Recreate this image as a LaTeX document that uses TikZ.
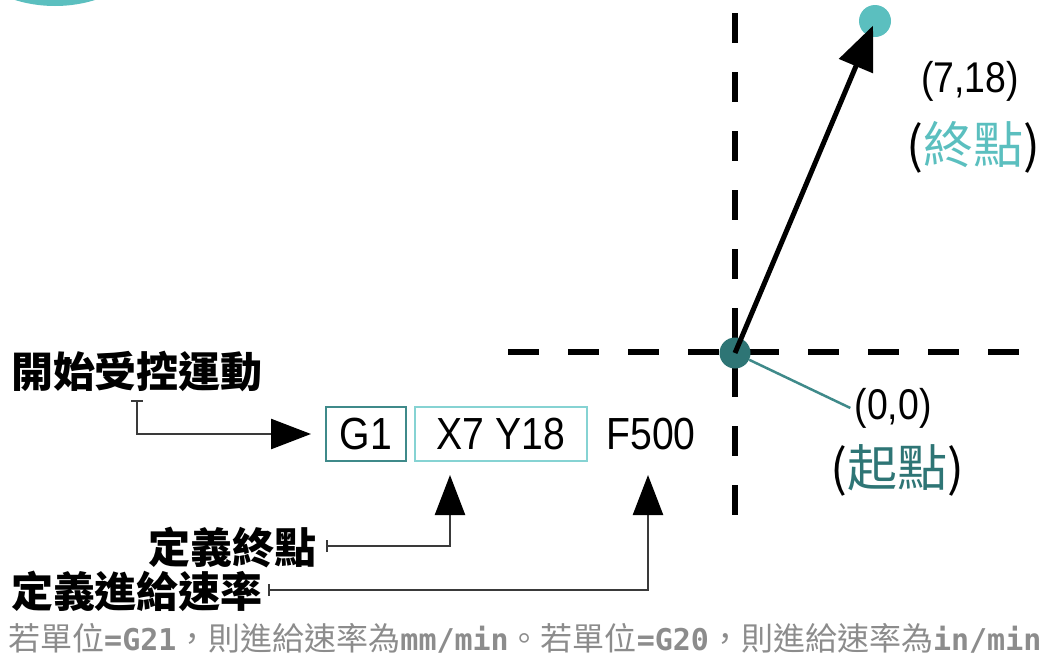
\documentclass[tikz,border=0pt]{standalone}
\usepackage{fontspec}
\usetikzlibrary{arrows.meta}
\setmainfont{Liberation Sans}
\newfontfamily\cond{Liberation Sans}[FakeStretch=0.87]
\newfontfamily\cjk{Noto Sans CJK TC}
\newfontfamily\mono{DejaVu Sans Mono}
\definecolor{tealD}{HTML}{2E7575}
\definecolor{tealL}{HTML}{5BBFBF}
\definecolor{boxD}{HTML}{3F8A8A}
\definecolor{boxL}{HTML}{86D3D3}
\definecolor{conn}{HTML}{3A3A3A}
\definecolor{notec}{HTML}{8C8C8C}
\tikzset{
  codebox/.style={inner sep=0pt, line width=2pt, minimum height=54pt, font=\cond\fontsize{45}{45}\selectfont},
  cjklabel/.style={inner sep=0pt, font=\cjk\bfseries\fontsize{42}{42}\selectfont},
  coordlabel/.style={inner sep=0pt, font=\cond\fontsize{43}{43}\selectfont},
  namelabel/.style={inner sep=0pt, font=\cjk\fontsize{50}{50}\selectfont},
  vaxis/.style={line width=6pt, dash pattern=on 30pt off 29pt},
  haxis/.style={line width=6pt, dash pattern=on 31pt off 29pt},
  leader/.style={conn, line width=2.5pt, {Bar[width=12pt,line width=2pt]}-{Triangle[length=40pt,width=30pt,color=black]}},
}
\newcommand\mb[1]{{\mono\bfseries\fontsize{30}{30}\selectfont #1}}
\begin{document}
\begin{tikzpicture}[x=1pt,y=-1pt]
\useasboundingbox (0,0) rectangle (1047,659);
% top-left badge
\begin{scope}
\clip (0,0) rectangle (1047,659);
\fill[tealL] (55,-130) circle (136pt);
\end{scope}
% axes
\coordinate (vt) at (735,13);
\coordinate (vb) at (735,517);
\coordinate (hl) at (508,352);
\coordinate (hr) at (1020,352);
\draw[vaxis] (vt) -- (vb);
\draw[haxis] (hl) -- (hr);
% points
\node[circle, fill=tealD, minimum size=31pt, inner sep=0pt] (s) at (735,353) {};
\node[circle, fill=tealL, minimum size=32pt, inner sep=0pt] (e) at (875,21) {};
\draw[line width=5pt, -{Triangle[length=44pt,width=36pt]}, shorten >=5pt] (s.center) -- (e.center);
% point labels
\node[coordlabel] (p718) at (970,81) {(7,18)};
\node[namelabel] (zhong) at (973,147) {(\textcolor{tealL}{終點})};
\node[coordlabel] (p00) at (893,408) {(0,0)};
\node[namelabel] (qi) at (897,470) {(\textcolor{tealD}{起點})};
\draw[boxD, line width=2.5pt] (s) -- ([xshift=-4pt]p00.west);
% code
\node[codebox, draw=boxD, minimum width=80pt] (g1) at (366,434) {\raisebox{-3pt}{G1}};
\node[codebox, draw=boxL, minimum width=172pt] (xy) at (501,434) {\raisebox{-3pt}{X7 Y18}};
\node[codebox] (f) at (651,434) {\raisebox{-3pt}{F500}};
% labels
\node[cjklabel] (kai) at (137,371) {開始受控運動};
\node[cjklabel] (zd) at (232,547) {定義終點};
\node[cjklabel] (jg) at (137,591) {定義進給速率};
\coordinate (kaiE) at (137,400);
\coordinate (zdE) at (326,546);
\coordinate (jgE) at (268,590);
\coordinate (tip1) at (450,475);
\coordinate (tip2) at (648,475);
\draw[leader, shorten >=14pt] (kaiE) |- (g1.west);
\draw[leader] (zdE) -| (tip1);
\draw[leader] (jgE) -| (tip2);
% note
\node[anchor=west, inner sep=0pt, text=notec, font=\cjk\fontsize{32}{32}\selectfont] (note) at (8,638)
 {若單位\mb{=G21}，則進給速率為\mb{mm/min}。若單位\mb{=G20}，則進給速率為\mb{in/min}};
\end{tikzpicture}
\end{document}
